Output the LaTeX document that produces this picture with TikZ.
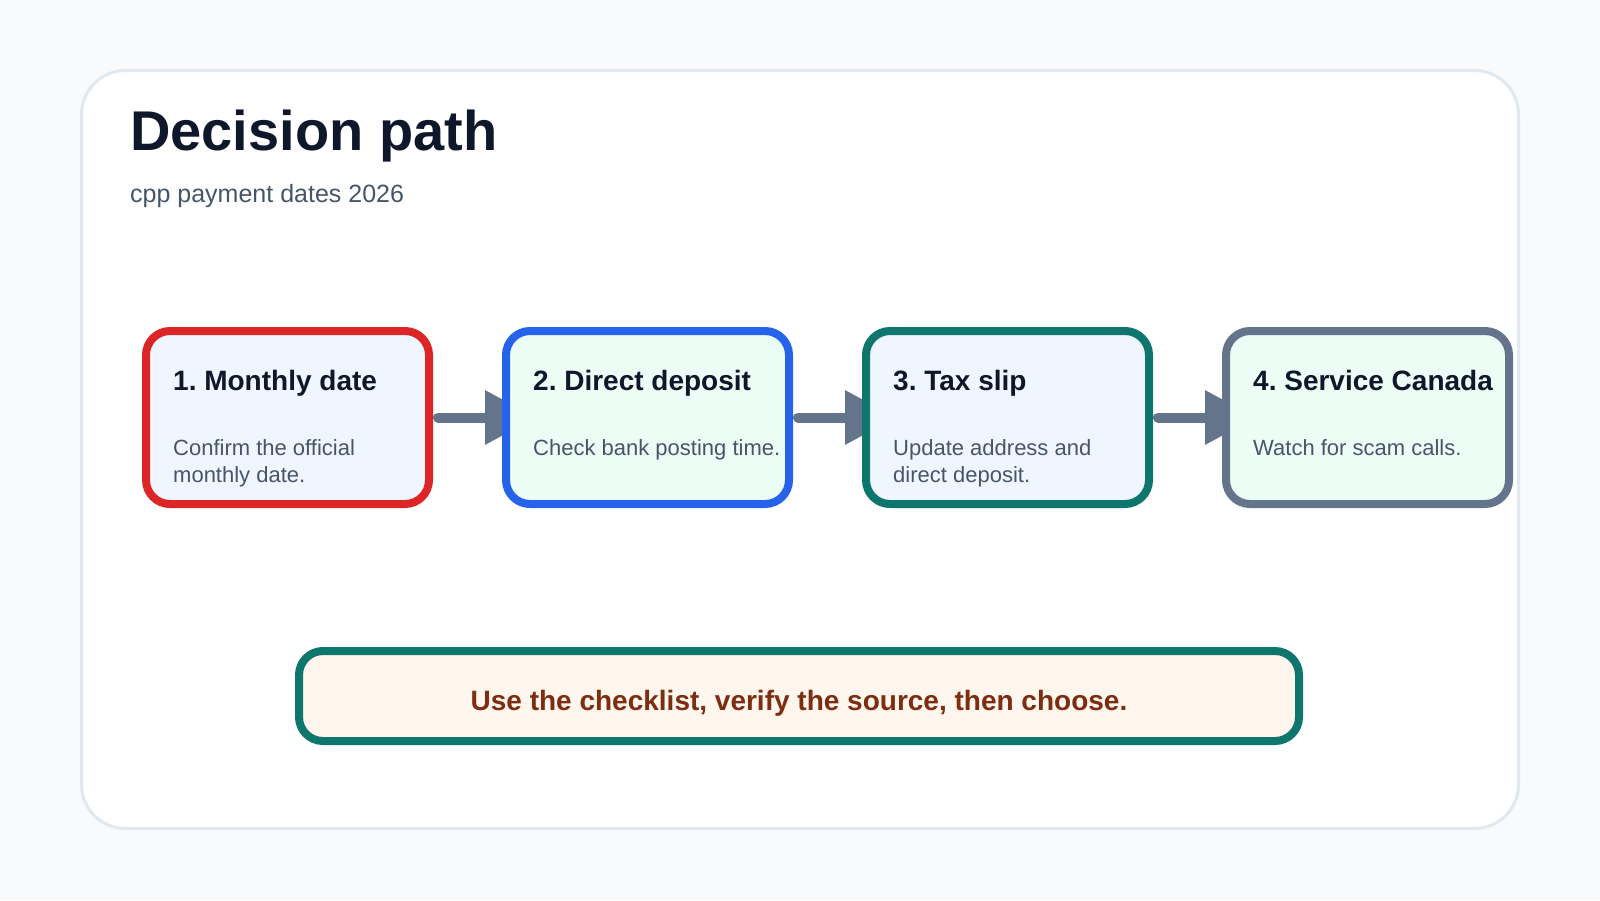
\documentclass[tikz,border=0pt]{standalone}
\usepackage{fontspec}
\setmainfont{Liberation Sans}
\frenchspacing
\usetikzlibrary{arrows.meta,calc}
\definecolor{pagebg}{HTML}{F8FAFC}
\definecolor{cardline}{HTML}{E2E8F0}
\definecolor{ink}{HTML}{0F172A}
\definecolor{muted}{HTML}{475569}
\definecolor{slate}{HTML}{64748B}
\definecolor{redline}{HTML}{DC2626}
\definecolor{blueline}{HTML}{2563EB}
\definecolor{tealline}{HTML}{0F766E}
\definecolor{fillblue}{HTML}{EFF6FF}
\definecolor{fillmint}{HTML}{ECFDF5}
\definecolor{noteink}{HTML}{7C2D12}
\definecolor{notefill}{HTML}{FFF7ED}
\pgfdeclarelayer{back}
\pgfdeclarelayer{mid}
\pgfsetlayers{back,mid,main}
\begin{document}
\begin{tikzpicture}[x=1pt,y=-1pt,
  stepbox/.style={draw, line width=8pt, rounded corners=24pt, minimum width=283pt, minimum height=173pt, inner sep=0pt, outer sep=0pt},
  steptitle/.style={anchor=base west, inner sep=0pt, font=\fontsize{28}{34}\selectfont\bfseries, text=ink},
  stepbody/.style={anchor=base west, inner sep=0pt, align=left, font=\fontsize{22}{27}\selectfont, text=muted},
  flow/.style={draw=slate, line width=10pt, line cap=round, -{Triangle[length=51pt,width=52pt]}}
]
\begin{pgfonlayer}{back}
\fill[pagebg] (0,0) rectangle (1600,900);
\path[fill=white, draw=cardline, line width=3pt, rounded corners=44pt] (81.5,70.5) rectangle (1518.5,828.5);
\end{pgfonlayer}
\useasboundingbox (0,0) rectangle (1600,900);

\node[anchor=base west, inner sep=0pt, font=\fontsize{56}{64}\selectfont\bfseries, text=ink] (title) at (130,150) {Decision path};
\node[anchor=base west, inner sep=0pt, font=\fontsize{25}{30}\selectfont, text=muted] (subtitle) at (130,202) {cpp payment dates 2026};

\node[stepbox, draw=redline, fill=fillblue] (b1) at (287.5,417.5) {};
\node[stepbox, draw=blueline, fill=fillmint] (b2) at (647.5,417.5) {};
\node[stepbox, draw=tealline, fill=fillblue] (b3) at (1007.5,417.5) {};
\node[stepbox, draw=slate, fill=fillmint] (b4) at (1367.5,417.5) {};

\node[steptitle] (t1) at ($(b1.north west)+(27,59)$) {1. Monthly date};
\node[stepbody] (d1) at ($(b1.north west)+(27,151)$) {Confirm the official\\monthly date.};
\node[steptitle] (t2) at ($(b2.north west)+(27,59)$) {2. Direct deposit};
\node[stepbody] (d2) at ($(b2.north west)+(27,124)$) {Check bank posting time.};
\node[steptitle] (t3) at ($(b3.north west)+(27,59)$) {3. Tax slip};
\node[stepbody] (d3) at ($(b3.north west)+(27,151)$) {Update address and\\direct deposit.};
\node[steptitle] (t4) at ($(b4.north west)+(27,59)$) {4. Service Canada};
\node[stepbody] (d4) at ($(b4.north west)+(27,124)$) {Watch for scam calls.};

\begin{pgfonlayer}{mid}
\draw[flow] ($(b1.east)+(9,0)$) -- ($(b2.west)+(30,0)$);
\draw[flow] ($(b2.east)+(9,0)$) -- ($(b3.west)+(30,0)$);
\draw[flow] ($(b3.east)+(9,0)$) -- ($(b4.west)+(30,0)$);
\end{pgfonlayer}

\node[draw=tealline, fill=notefill, line width=8pt, rounded corners=24pt, minimum width=1000pt, minimum height=90pt, inner sep=0pt, outer sep=0pt] (notebox) at (799,696) {};
\node[anchor=base, inner sep=0pt, font=\fontsize{28}{34}\selectfont\bfseries, text=noteink] (notetext) at (799,710) {Use the checklist, verify the source, then choose.};
\end{tikzpicture}
\end{document}
